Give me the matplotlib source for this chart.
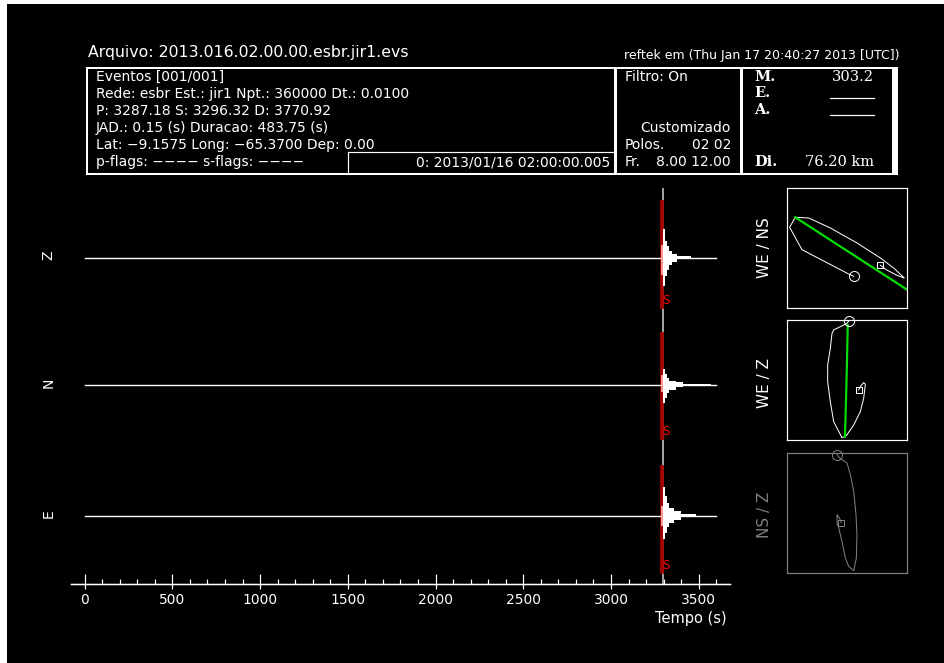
import matplotlib
matplotlib.use("Agg")
import matplotlib.pyplot as plt
from matplotlib.patches import Rectangle

W, H, DPI = 944, 663, 100

# ---------------- record / event parameters ----------------
arquivo = "2013.016.02.00.00.esbr.jir1.evs"
stamp = "reftek em (Thu Jan 17 20:40:27 2013 [UTC])"
t_p = 3287.18
t_s = 3296.32
t_d = 3770.92
npt = 360000
dt = 0.0100
t_end = npt * dt

header_lines = [
    "Eventos [001/001]",
    "Rede: esbr Est.: jir1 Npt.: 360000 Dt.: 0.0100",
    "P: 3287.18 S: 3296.32 D: 3770.92",
    "JAD.: 0.15 (s) Duracao: 483.75 (s)",
    "Lat: \u22129.1575 Long: \u221265.3700 Dep: 0.00",
    "p-flags: \u2212\u2212\u2212\u2212 s-flags: \u2212\u2212\u2212\u2212",
]
origin_label = "0: 2013/01/16 02:00:00.005"
filtro = "Filtro: On"
filtro_tipo = "Customizado"
polos = "02 02"
freqs = "8.00 12.00"
magnitude = "303.2"
distancia = "76.20 km"

# ---------------- traces ----------------
components = ["Z", "N", "E"]

# amplitude of the P window (between P and S), upper / lower
p_up = [13, 10, 10]
p_dn = [-17, -7, -10]

# coda envelope after S: seconds after S, upper and lower amplitude
coda_t = {
    "Z": [0, 11, 23, 36, 53, 82, 161],
    "N": [0, 11, 23, 36, 74, 113, 275],
    "E": [0, 11, 23, 36, 65, 103, 189],
}
coda_up = {
    "Z": [29, 17, 12, 7, 4, 1.5, 0],
    "N": [16, 11, 7, 4, 2.3, 1, 0],
    "E": [29, 20, 13, 8, 5, 2, 0],
}
coda_dn = {
    "Z": [-28, -18, -12, -7, -4, -1.5, 0],
    "N": [-18, -13, -8, -5, -2.7, -1.3, 0],
    "E": [-23, -17, -11, -7, -4, -1.7, 0],
}
# extent of the pick marks (upper, lower)
pick_top = [57, 52, 50]
pick_bot = [-50, -54, -57]

# ---------------- particle motion ----------------
pm_titles = ["WE / NS", "WE / Z", "NS / Z"]
pm_x = [
    [0.556, 0.514, 0.125, 0.022, 0.069, 0.181, 0.361, 0.583, 0.778, 0.889, 0.978, 0.917, 0.828, 0.778],
    [0.514, 0.500, 0.389, 0.375, 0.361, 0.339, 0.339, 0.361, 0.389, 0.458, 0.494, 0.556, 0.611, 0.639, 0.653, 0.639, 0.617, 0.597],
    [0.417, 0.439, 0.500, 0.528, 0.556, 0.575, 0.583, 0.578, 0.556, 0.514, 0.486, 0.458, 0.431, 0.417, 0.417, 0.439, 0.453],
]
pm_y = [
    [0.264, 0.283, 0.486, 0.672, 0.756, 0.750, 0.667, 0.542, 0.417, 0.333, 0.250, 0.272, 0.319, 0.356],
    [0.992, 0.972, 0.917, 0.889, 0.764, 0.625, 0.486, 0.319, 0.153, 0.019, 0.036, 0.125, 0.236, 0.347, 0.464, 0.478, 0.453, 0.417],
    [0.986, 0.958, 0.917, 0.819, 0.681, 0.486, 0.319, 0.125, 0.019, 0.056, 0.125, 0.264, 0.375, 0.417, 0.486, 0.453, 0.419],
]
# principal direction
dir_x = [[0.069, 1.0], [0.506, 0.500, 0.492, 0.483], None]
dir_y = [[0.756, 0.153], [0.958, 0.653, 0.347, 0.028], None]

# ---------------- drawing ----------------
plt.rcParams["font.family"] = ["DejaVu Sans"]
WHITE = "#ffffff"
GRAY = "#808080"


def box(x0, y0, x1, y1):
    return [x0 / W, 1 - y1 / H, (x1 - x0) / W, (y1 - y0) / H]


fig = plt.figure(figsize=(W / DPI, H / DPI), dpi=DPI, facecolor="white")

# page in pixel coordinates for frames and header text
page = fig.add_axes([0, 0, 1, 1], zorder=0)
page.set_xlim(0, W)
page.set_ylim(H, 0)
page.axis("off")
page.add_patch(Rectangle((7, 4), W - 7, H - 4, color="black", lw=0))

px = 0.72  # one pixel in points
# header frame
page.add_patch(Rectangle((87, 68), 806, 105.5, fill=False, ec=WHITE, lw=2 * px))
page.add_patch(Rectangle((893, 67), 5, 107.5, color=WHITE, lw=0))
page.plot([614.5, 614.5], [68, 173], color=WHITE, lw=3 * px)
page.plot([740.5, 740.5], [68, 173], color=WHITE, lw=3 * px)
page.plot([348, 613], [152, 152], color=WHITE, lw=1.2 * px)
page.plot([348, 348], [152, 173], color=WHITE, lw=1.2 * px)

fs = 10
page.text(88, 53, "Arquivo: " + arquivo, color=WHITE, fontsize=11.3, va="center", ha="left")
page.text(899, 56, stamp, color=WHITE, fontsize=9, va="center", ha="right")
for i, line in enumerate(header_lines):
    page.text(96, 77 + 17 * i, line, color=WHITE, fontsize=fs, va="center", ha="left")
page.text(610, 162, origin_label, color=WHITE, fontsize=fs, va="center", ha="right")

page.text(625, 77, filtro, color=WHITE, fontsize=fs, va="center", ha="left")
page.text(731, 128, filtro_tipo, color=WHITE, fontsize=fs, va="center", ha="right")
page.text(625, 145, "Polos.", color=WHITE, fontsize=fs, va="center", ha="left")
page.text(731, 145, polos, color=WHITE, fontsize=fs, va="center", ha="right")
page.text(625, 162, "Fr.", color=WHITE, fontsize=fs, va="center", ha="left")
page.text(731, 162, freqs, color=WHITE, fontsize=fs, va="center", ha="right")

sf = dict(color=WHITE, fontsize=10.5, va="center", family="DejaVu Serif")
page.text(754, 77, "M.", ha="left", fontweight="bold", **sf)
page.text(874, 77, magnitude, ha="right", **sf)
page.text(754, 93, "E.", ha="left", fontweight="bold", **sf)
page.text(754, 110, "A.", ha="left", fontweight="bold", **sf)
page.plot([830, 874], [98, 98], color=WHITE, lw=1.2 * px)
page.plot([830, 874], [115, 115], color=WHITE, lw=1.2 * px)
page.text(754, 162, "Di.", ha="left", fontweight="bold", **sf)
page.text(874, 162, distancia, ha="right", **sf)

# time axis
XL = (-77.5, 3678)
ax_t = fig.add_axes(box(71, 188, 730, 584), zorder=1)
ax_t.patch.set_alpha(0)
ax_t.set_xlim(*XL)
ax_t.set_ylim(0, 1)
for s in ["top", "left", "right"]:
    ax_t.spines[s].set_visible(False)
ax_t.spines["bottom"].set_color(WHITE)
ax_t.spines["bottom"].set_linewidth(1.3 * px)
ax_t.set_yticks([])
majors = list(range(0, 3501, 500))
minors = list(range(0, 3601, 100))
ax_t.set_xticks(majors)
ax_t.set_xticks(minors, minor=True)
ax_t.tick_params(axis="x", which="major", direction="in", length=10.5 * px, width=1.2 * px,
                 color=WHITE, labelcolor=WHITE, labelsize=10, pad=9 * px)
ax_t.tick_params(axis="x", which="minor", direction="in", length=5 * px, width=1.2 * px, color=WHITE)
sec = ax_t.secondary_xaxis("bottom")
sec.set_xticks(majors)
sec.set_xticklabels([])
sec.tick_params(direction="out", length=5 * px, width=1.2 * px, color=WHITE)
sec.spines["bottom"].set_color(WHITE)
sec.spines["bottom"].set_linewidth(1.3 * px)
ax_t.axvline(t_s, color="#a0a0a0", lw=2 * px, zorder=0)
page.text(691, 619, "Tempo (s)", color=WHITE, fontsize=10.5, ha="center", va="center")

baselines = [257.5, 384.5, 515.5]
for k, comp in enumerate(components):
    yb = baselines[k]
    ax = fig.add_axes(box(71, yb - 64, 730, yb + 64), zorder=2)
    ax.patch.set_alpha(0)
    ax.set_xlim(*XL)
    ax.set_ylim(-64, 64)
    ax.axis("off")
    # pick marks P and S
    ax.fill_between([t_p, t_s], pick_bot[k], pick_top[k], color="#e00000", lw=0, zorder=1)
    ax.plot([t_p, t_p], [pick_bot[k], pick_top[k]], color="#a00000", lw=1.8 * px, zorder=1)
    ax.plot([t_s, t_s], [pick_bot[k], pick_top[k]], color="#a00000", lw=1.8 * px, zorder=1)
    # baseline of the trace
    ax.plot([0, t_end], [0, 0], color=WHITE, lw=1.4 * px, zorder=2)
    # P window
    ax.fill_between([t_p, t_s], p_dn[k], p_up[k], color="#ff9a9a", lw=0, zorder=3)
    # coda envelope after S
    tt = [t_s + v for v in coda_t[comp]]
    ax.fill_between(tt, coda_dn[comp], coda_up[comp], step="post", color=WHITE, lw=0, zorder=3)
    ax.text(t_s - 4, pick_bot[k] + 7, "S", color="#ff0000", fontsize=8.5, ha="left", va="center", zorder=4)
    page.text(48.5, yb - 2, comp, color=WHITE, fontsize=10, rotation=90, ha="center", va="center")

# particle motion panels
pm_boxes = [(787, 188, 907, 308), (787, 320, 907, 440), (787, 453, 907, 573)]
label_y = [248, 383, 515]
for k in range(3):
    col = GRAY if k == 2 else WHITE
    ax = fig.add_axes(box(*pm_boxes[k]), zorder=2)
    ax.set_facecolor("black")
    ax.set_xlim(0, 1)
    ax.set_ylim(0, 1)
    ax.set_xticks([])
    ax.set_yticks([])
    for s in ax.spines.values():
        s.set_color(col)
        s.set_linewidth(1.2 * px)
    ax.plot(pm_x[k], pm_y[k], color=col, lw=1.0 * px)
    if dir_x[k] is not None:
        ax.plot(dir_x[k], dir_y[k], color="#00e000", lw=2.2 * px, clip_on=True)
    ax.plot(pm_x[k][0], pm_y[k][0], "o", ms=10 * px, mfc="none", mec=col, mew=1.0 * px, clip_on=False)
    ax.plot(pm_x[k][-1], pm_y[k][-1], "s", ms=5.5 * px, mfc="none", mec=col, mew=1.0 * px, clip_on=False)
    page.text(765, label_y[k], pm_titles[k], color=col, fontsize=11, rotation=90,
              ha="center", va="center")

fig.savefig("out.png", dpi=DPI, facecolor="white")
